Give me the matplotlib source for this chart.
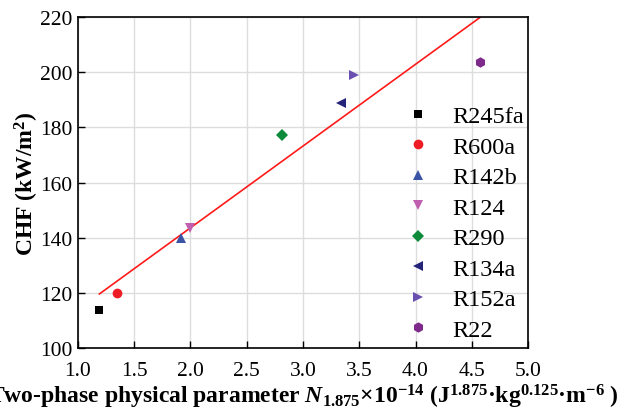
import numpy as np
import matplotlib
matplotlib.use("Agg")
import matplotlib.pyplot as plt

plt.rcParams['font.family'] = ['Liberation Serif', 'DejaVu Serif']
plt.rcParams['mathtext.fontset'] = 'custom'
plt.rcParams['mathtext.rm'] = 'Liberation Serif:bold'
plt.rcParams['mathtext.it'] = 'Liberation Serif:italic:bold'
plt.rcParams['mathtext.bf'] = 'Liberation Serif:bold'

# fluids and readings
fluids = ['R245fa', 'R600a', 'R142b', 'R124', 'R290', 'R134a', 'R152a', 'R22']
n_param = [1.19, 1.35, 1.92, 2.00, 2.81, 3.34, 3.45, 4.57]
chf = [113.6, 120.0, 139.9, 143.6, 177.2, 188.7, 199.1, 203.8]

markers = ['s', 'o', '^', 'v', 'D', '<', '>', 'h']
colors = ['#000000', '#ee1c25', '#3a53a4', '#c05fb0', '#0d8a3a', '#23237a', '#6a4fb0', '#7d2a8a']
sizes = [6, 7, 7.5, 7.5, 6, 7.5, 7.5, 7.5]

xticks = [1.0, 1.5, 2.0, 2.5, 3.0, 3.5, 4.0, 4.5, 5.0]
yticks = [100, 120, 140, 160, 180, 200, 220]

fig = plt.figure(figsize=(6.18, 4.14), dpi=100)
ax = fig.add_axes([0.1262, 0.157, 0.7282, 0.7995])

ax.grid(True, color='#dddddd', linewidth=1.0, zorder=0)
ax.set_axisbelow(True)

# linear fit across the data range
k, b = np.polyfit(n_param, chf, 1)
xf = np.array([min(n_param), max(n_param)])
ax.plot(xf, k * xf + b, color='#ff1a1a', linewidth=1.2, zorder=2)

for name, xv, yv, m, c, s in zip(fluids, n_param, chf, markers, colors, sizes):
    ax.plot(xv, yv, linestyle='none', marker=m, color=c, markersize=s,
            markeredgewidth=0, label=name, zorder=3)

ax.set_xlim(1.0, 5.0)
ax.set_ylim(100, 220)
ax.set_xticks(xticks)
ax.set_yticks(yticks)
ax.set_xticklabels(['%.1f' % t for t in xticks])
ax.tick_params(direction='in', length=5, width=1, labelsize=15.5)
ax.tick_params(axis='x', pad=9)
ax.tick_params(axis='y', pad=4)

for sp in ax.spines.values():
    sp.set_linewidth(1.2)

ax.set_ylabel('CHF (kW/m$^{2}$)', fontsize=17, fontweight='bold', labelpad=-1)
ax.set_xlabel(r'Two-phase physical parameter $\mathit{N}_{1.875}$×10$^{-14}$ '
              r'(J$^{1.875}$·kg$^{0.125}$·m$^{-6}$ )',
              fontsize=17, fontweight='bold', labelpad=2)

ax.legend(loc='upper left', bbox_to_anchor=(0.723, 0.734), frameon=False,
          fontsize=17.5, handletextpad=0.8, labelspacing=0.35, markerscale=1.0,
          handlelength=1.2, borderaxespad=0, borderpad=0)

fig.savefig('out.png', dpi=100)
